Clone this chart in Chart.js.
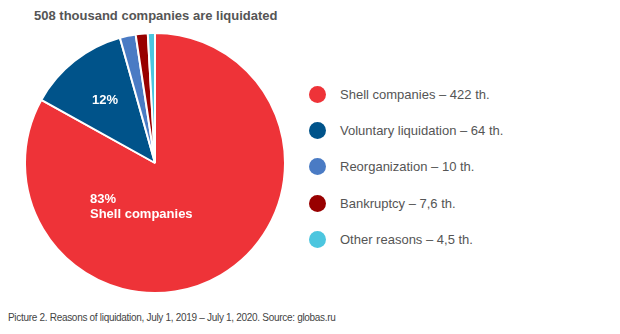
<!DOCTYPE html>
<html>
<head>
<meta charset="utf-8">
<script src="https://cdn.jsdelivr.net/npm/chart.js@4/dist/chart.umd.min.js"></script>
<style>
  html, body { margin: 0; padding: 0; background: #fff; }
  body { width: 620px; height: 334px; position: relative; overflow: hidden; font-family: "Liberation Sans", Arial, sans-serif; }
  #title { position: absolute; left: 34px; top: 8px; font-size: 13px; font-weight: bold; color: #555; }
  #pie-wrap { position: absolute; left: 24px; top: 32px; width: 262px; height: 262px; }
  .slice-label { position: absolute; color: #fff; font-weight: bold; font-size: 13px; line-height: 15px; }
  #legend { position: absolute; left: 309px; top: 76px; }
  .leg-item { display: flex; align-items: center; height: 36.3px; }
  .leg-dot { width: 17px; height: 17px; border-radius: 50%; margin-right: 14px; }
  .leg-text { font-size: 13px; color: #555; }
  #footer { position: absolute; left: 8px; top: 312px; font-size: 10px; letter-spacing: -0.3px; color: #444; }
</style>
</head>
<body>
<div id="title">508 thousand companies are liquidated</div>
<div id="pie-wrap"><canvas id="pie"></canvas></div>
<div class="slice-label" style="left:92px;top:92px;">12%</div>
<div class="slice-label" style="left:90px;top:191px;">83%<br>Shell companies</div>
<div id="legend"></div>
<div id="footer">Picture 2. Reasons of liquidation, July 1, 2019 – July 1, 2020. Source: globas.ru</div>
<script>
// Liquidation reasons, thousands of companies
const categories = ['Shell companies', 'Voluntary liquidation', 'Reorganization', 'Bankruptcy', 'Other reasons'];
const values = [422, 64, 10, 7.6, 4.5];
const valueLabels = ['422', '64', '10', '7,6', '4,5'];
const colors = ['#EE3338', '#00538A', '#4A7BC4', '#980000', '#4CC6DF'];

document.getElementById('legend').innerHTML = categories.map((c, i) =>
  `<div class="leg-item"><div class="leg-dot" style="background:${colors[i]}"></div><div class="leg-text">${c} – ${valueLabels[i]} th.</div></div>`
).join('');

new Chart(document.getElementById('pie'), {
  type: 'pie',
  data: { labels: categories, datasets: [{ data: values, backgroundColor: colors, borderColor: '#fff', borderWidth: 2 }] },
  options: {
    responsive: true,
    maintainAspectRatio: false,
    animation: false,
    layout: { padding: 0 },
    plugins: { legend: { display: false }, tooltip: { enabled: false } },
  },
});
</script>
</body>
</html>
